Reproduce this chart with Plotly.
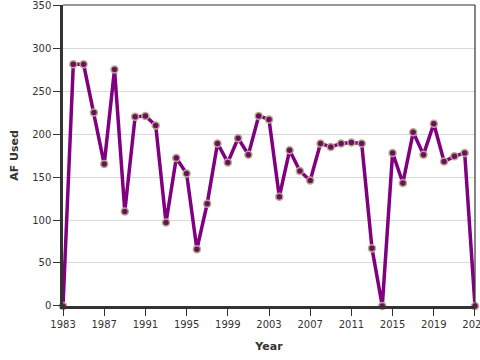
import plotly.graph_objects as go

years = list(range(1983, 2024))
af_used = [0, 281, 281, 225, 165, 275, 110, 220, 221, 210,
           97, 172, 154, 66, 119, 189, 167, 195, 176, 221,
           217, 127, 181, 157, 146, 189, 185, 189, 190, 189,
           67, 0, 178, 143, 202, 176, 212, 168, 174, 178, 0]
x_ticks = list(range(1983, 2024, 4))
y_ticks = list(range(0, 351, 50))

fig = go.Figure()
fig.add_trace(go.Scatter(
    x=years, y=af_used, mode="lines+markers",
    line=dict(color="#800080", width=3.5),
    marker=dict(size=7, color="#6a1060", line=dict(color="#b9a88a", width=1.5)),
    cliponaxis=False, showlegend=False,
))

font = "DejaVu Sans, Verdana, sans-serif"
fig.update_layout(
    width=480, height=360,
    margin=dict(l=63, r=5, t=5, b=54),
    paper_bgcolor="white", plot_bgcolor="white",
    font=dict(family=font, size=10, color="#333333"),
    xaxis=dict(
        range=[1982.999, 2023.001], tickvals=x_ticks, ticktext=[str(t) for t in x_ticks],
        ticks="outside", ticklen=7, tickwidth=1, tickcolor="#333333",
        showline=True, linecolor="#333333", linewidth=2.5,
        showgrid=False, zeroline=False, automargin=False, ticklabeloverflow="allow",
        title=dict(text="<b>Year</b>", font=dict(size=11), standoff=14),
        tickfont=dict(size=10),
    ),
    yaxis=dict(
        range=[-0.01, 350.01], tickvals=y_ticks,
        ticks="outside", ticklen=7, tickwidth=1, tickcolor="#333333",
        showline=True, linecolor="#333333", linewidth=2.5,
        showgrid=True, gridcolor="#d9d9d9", gridwidth=1, zeroline=False, automargin=False,
        ticklabeloverflow="allow",
        title=dict(text="<b>AF Used</b>", font=dict(size=11), standoff=12),
        tickfont=dict(size=10),
    ),
    shapes=[
        dict(type="line", xref="paper", yref="paper", x0=0, y0=1, x1=1, y1=1,
             line=dict(color="#333333", width=1.2), layer="above"),
        dict(type="line", xref="paper", yref="paper", x0=1, y0=0, x1=1, y1=1,
             line=dict(color="#333333", width=1.2), layer="above"),
    ],
)
fig.write_html("out.html", config={"displayModeBar": False},
               post_script="document.body.style.margin='0';document.body.style.overflow='hidden';")
